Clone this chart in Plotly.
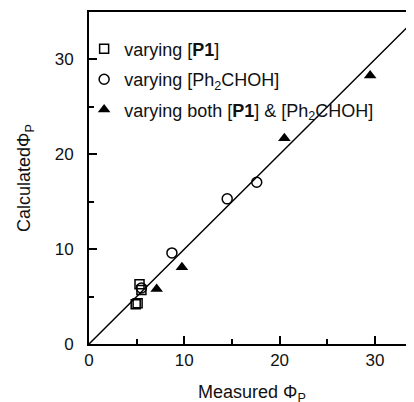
import plotly.graph_objects as go

# Data
p1_x = [4.9, 5.1, 5.3, 5.5]
p1_y = [4.2, 4.3, 6.3, 5.7]
ph_x = [5.5, 8.7, 14.5, 17.6]
ph_y = [5.9, 9.6, 15.3, 17.05]
both_x = [7.1, 9.75, 20.5, 29.5]
both_y = [5.8, 8.1, 21.7, 28.3]
line_x = [0, 35]
line_y = [0, 35]

x_ticks = [0, 10, 20, 30]
y_ticks = [0, 10, 20, 30]
x_title = "Measured Φ<sub>P</sub>"
y_title = "CalculatedΦ<sub>P</sub>"

fig = go.Figure()
fig.add_trace(go.Scatter(x=line_x, y=line_y, mode="lines",
                         line=dict(color="black", width=1.5), showlegend=False, hoverinfo="skip"))
fig.add_trace(go.Scatter(x=p1_x, y=p1_y, mode="markers", name="varying [<b>P1</b>]", legendgroup="a",
                         marker=dict(symbol="square-open", size=9, color="black", line=dict(width=1.5))))
fig.add_trace(go.Scatter(x=ph_x, y=ph_y, mode="markers", name="varying [Ph<sub>2</sub>CHOH]", legendgroup="b",
                         marker=dict(symbol="circle-open", size=10, color="black", line=dict(width=1.5))))
fig.add_trace(go.Scatter(x=both_x, y=both_y, mode="markers", legendgroup="c",
                         name="varying both [<b>P1</b>] & [Ph<sub>2</sub>CHOH]",
                         marker=dict(symbol="triangle-up", size=11, color="black")))

font = "Liberation Sans, Arial, sans-serif"
fig.update_layout(
    width=406, height=394,
    margin=dict(l=81, r=0, t=4, b=58),
    plot_bgcolor="white", paper_bgcolor="white",
    font=dict(family=font, size=17, color="#111"),
    legend=dict(x=-0.015, y=0.944, xanchor="left", yanchor="top",
                bgcolor="rgba(0,0,0,0)", font=dict(size=18), tracegroupgap=4,
                itemwidth=30),
    xaxis=dict(range=[0, 34.1], tickvals=x_ticks, ticks="inside", ticklen=8, tickwidth=1.5,
               tickcolor="black", showline=True, linecolor="black", linewidth=2, mirror=True,
               showgrid=False, zeroline=False, automargin=False,
               minor=dict(dtick=5, ticks="inside", ticklen=5, tickwidth=1.5, tickcolor="black")),
    yaxis=dict(range=[0, 35], tickvals=y_ticks, ticks="inside", ticklen=8, tickwidth=1.5,
               tickcolor="black", showline=True, linecolor="black", linewidth=2,
               showgrid=False, zeroline=False, automargin=False, ticklabelstandoff=10,
               minor=dict(dtick=5, ticks="inside", ticklen=5, tickwidth=1.5, tickcolor="black")),
    annotations=[
        dict(text=x_title, xref="paper", yref="paper", x=0.5, y=0, xanchor="center",
             yanchor="middle", yshift=-49, showarrow=False, font=dict(size=18)),
        dict(text=y_title, xref="paper", yref="paper", x=0, y=0.5, xanchor="center",
             yanchor="middle", xshift=-64, textangle=-90, showarrow=False, font=dict(size=18)),
    ],
)
fig.write_html("out.html")
